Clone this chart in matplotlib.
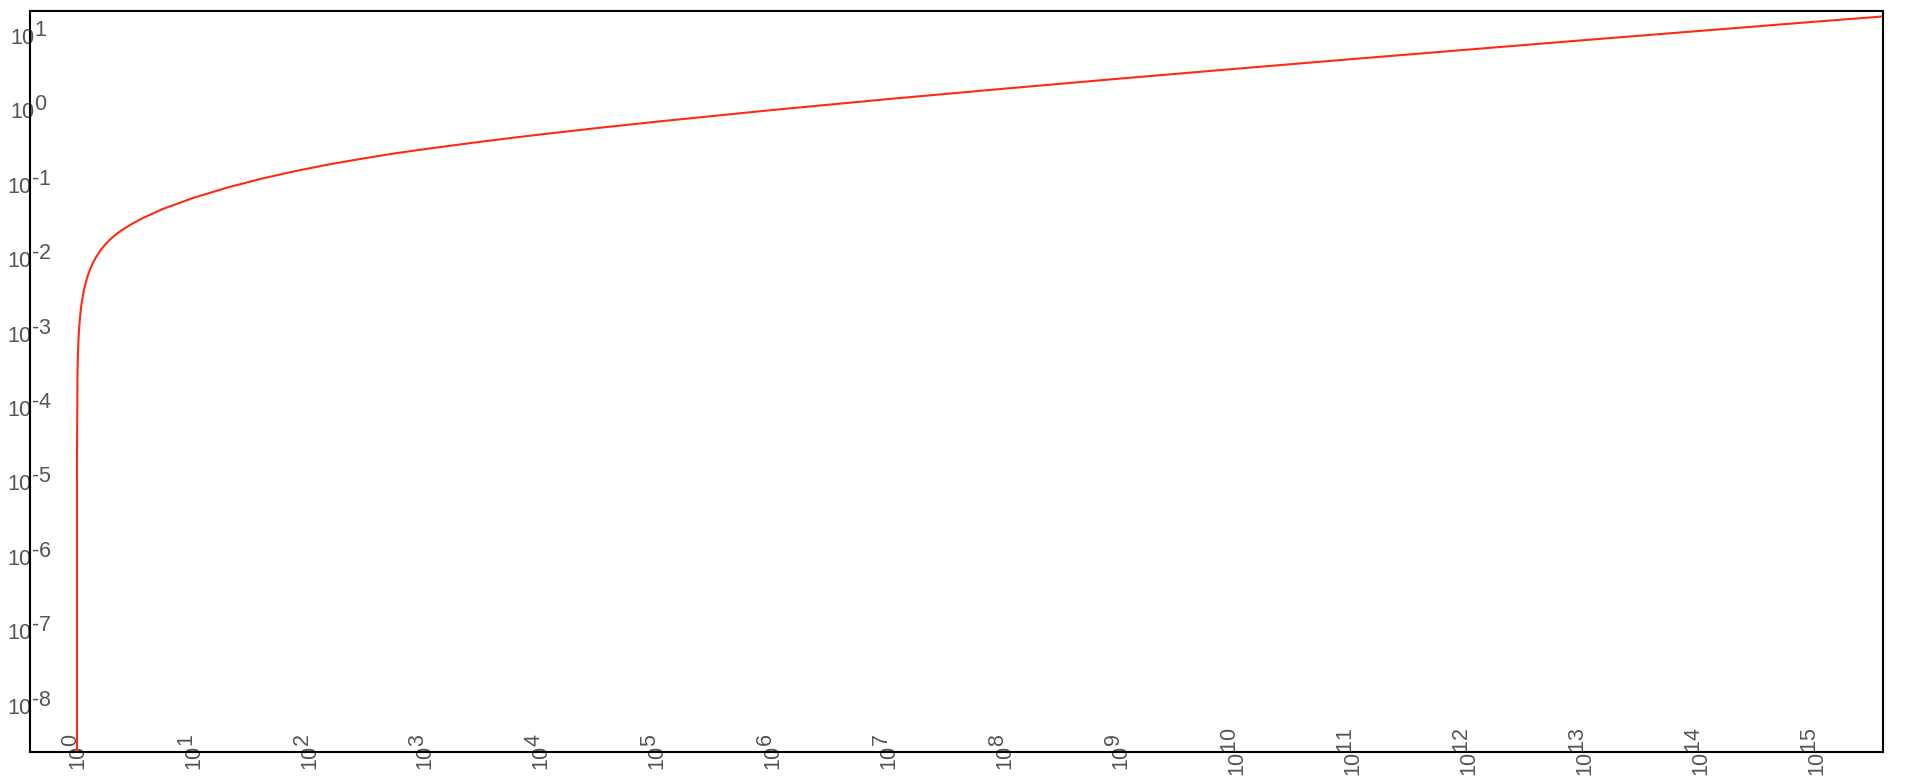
import numpy as np
import matplotlib.pyplot as plt
import matplotlib.transforms as mtransforms
import matplotlib._mathtext as mathtext_internals

# values (log-log)
x_vals = [1.00000005, 1.0000001, 1.0000005, 1.00001, 1.0001, 1.001, 1.01, 1.015, 1.02,
          1.03, 1.04, 1.06, 1.08, 1.1, 1.15, 1.2, 1.25, 1.3, 1.384, 1.45, 1.6, 1.75,
          1.928, 2.2, 2.5, 3.0, 3.73, 5.5, 10.0, 20.0, 40.0, 73.5, 150.0, 300.0, 537.0,
          1e3, 3e3, 6.6e3, 1e4, 3e4, 1e5, 1e6, 1e7, 1e8, 1e9, 1e10, 1e11, 1e12, 1e13,
          1e14, 1e15, 3.8e15]
y_vals = [1.2e-9, 2.4e-9, 1.2e-8, 2.4e-7, 2.4e-6, 2.4e-5, 2.37e-4, 3.55e-4, 4.72e-4,
          7.05e-4, 9.36e-4, 1.39e-3, 1.84e-3, 2.28e-3, 3.36e-3, 4.39e-3, 5.39e-3,
          6.35e-3, 7.9e-3, 9.01e-3, 0.01139, 0.01355, 0.01584, 0.01892, 0.0218, 0.0259,
          0.031, 0.0408, 0.0573, 0.0795, 0.1051, 0.1301, 0.1624, 0.1956, 0.2267, 0.2602,
          0.326, 0.3794, 0.4096, 0.4973, 0.608, 0.873, 1.225, 1.69, 2.31, 3.13,
          4.22, 5.66, 7.58, 10.1, 13.45, 15.8]

x_exponents = list(range(0, 16))
y_exponents = list(range(-8, 2))

# superscripts in the reference are drawn at full size
mathtext_internals.SHRINK_FACTOR = 1.0

plt.rcParams['font.family'] = ['Liberation Sans', 'DejaVu Sans']
plt.rcParams['mathtext.fontset'] = 'custom'
plt.rcParams['mathtext.rm'] = 'Liberation Sans'
plt.rcParams['mathtext.it'] = 'Liberation Sans'


def power_label(e):
    # plain hyphen instead of the wide minus sign
    exp = str(e).replace('-', '\u2010')
    return r'$\mathregular{10^{%s}}$' % exp


fig = plt.figure(figsize=(19.13, 7.81), dpi=100)
ax = fig.add_axes([0.01594, 0.03713, 0.96837, 0.94878])

ax.plot(x_vals, y_vals, color='#ff2a10', linewidth=1.5)

ax.set_xscale('log')
ax.set_yscale('log')
ax.set_xlim(10 ** -0.401, 10 ** 15.578)
ax.set_ylim(10 ** -8.688, 10 ** 1.2715)

ax.set_xticks([10.0 ** e for e in x_exponents])
ax.set_xticklabels([power_label(e) for e in x_exponents])
ax.set_yticks([10.0 ** e for e in y_exponents])
ax.set_yticklabels([power_label(e) for e in y_exponents])
ax.minorticks_off()

ax.tick_params(axis='both', length=0, pad=0, labelsize=15.5, labelcolor='#555555')
for lab in ax.get_xticklabels():
    lab.set_rotation(90)
    lab.set_horizontalalignment('center')
    lab.set_verticalalignment('center')

# labels sit across the spine, a little below the tick
shift_down = mtransforms.ScaledTranslation(-0.015, -0.05, fig.dpi_scale_trans)
for lab in ax.get_yticklabels():
    lab.set_horizontalalignment('center')
    lab.set_verticalalignment('center')
    lab.set_transform(lab.get_transform() + shift_down)

for s in ax.spines.values():
    s.set_linewidth(1.5)
    s.set_color('black')

plt.savefig('out.png', dpi=100)
